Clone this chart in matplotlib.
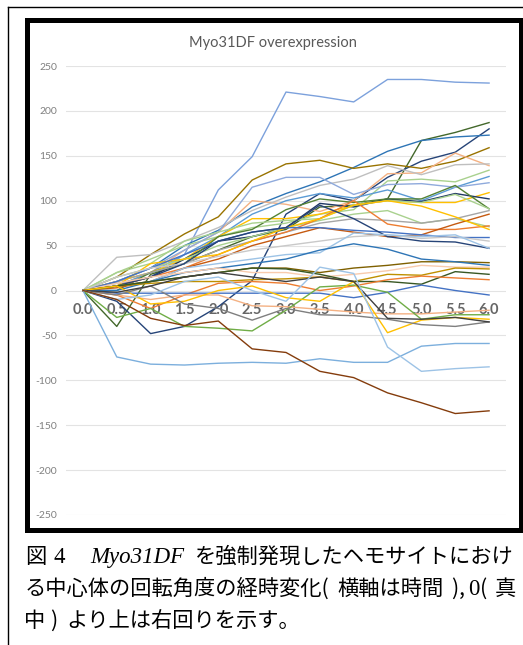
import numpy as np
import matplotlib
matplotlib.use('Agg')
import matplotlib.pyplot as plt
from matplotlib.lines import Line2D
from matplotlib.patches import Rectangle

W, H = 523, 645

# tempo (asse categorie)
tempi = ['0.0', '0.5', '1.0', '1.5', '2.0', '2.5', '3.0', '3.5', '4.0', '4.5', '5.0', '5.5', '6.0']
y_ticks = [250, 200, 150, 100, 50, 0, -50, -100, -150, -200, -250]

# angoli di rotazione (una lista per cellula)
s01 = [0, 8, 15, 40, 112, 149, 221, 216, 210, 235, 235, 232, 231]
s02 = [0, -40, 18, 30, 45, 60, 68, 93, 95, 102, 167, 176, 187]
s03 = [0, -12, -48, -40, -18, 11, 85, 108, 100, 126, 144, 154, 180]
s04 = [0, 10, 25, 50, 67, 93, 108, 121, 137, 155, 167, 171, 173]
s05 = [0, 15, 40, 63, 82, 123, 141, 145, 136, 141, 136, 144, 159]
s06 = [0, 5, 20, 45, 65, 100, 96, 88, 100, 130, 131, 153, 139]
s07 = [0, 37, 40, 55, 70, 89, 104, 117, 124, 139, 129, 140, 141]
s08 = [0, 20, 35, 50, 60, 70, 75, 85, 90, 122, 124, 121, 134]
s09 = [0, 5, 20, 40, 60, 85, 100, 108, 103, 112, 100, 115, 127]
s10 = [0, 10, 25, 45, 65, 115, 126, 126, 107, 118, 119, 115, 120]
s11 = [0, 10, 20, 35, 60, 80, 80, 85, 95, 100, 98, 98, 109]
s12 = [0, 5, 15, 35, 55, 60, 70, 97, 93, 102, 99, 108, 102]
s13 = [0, 0, 20, 30, 60, 68, 90, 102, 98, 102, 102, 117, 91]
s14 = [0, 20, 30, 55, 65, 75, 78, 80, 95, 100, 98, 107, 91]
s15 = [0, 15, 25, 35, 50, 60, 70, 78, 85, 89, 75, 80, 71]
s16 = [0, 10, 20, 30, 45, 55, 65, 75, 80, 78, 75, 80, 89]
s17 = [0, 5, 15, 25, 40, 55, 65, 80, 100, 74, 68, 68, 72]
s18 = [0, 3, 10, 25, 35, 50, 60, 70, 65, 60, 62, 74, 85]
s19 = [0, 5, 30, 35, 40, 55, 70, 80, 95, 100, 94, 82, 68]
s20 = [0, 10, 25, 40, 55, 65, 70, 70, 67, 65, 62, 59, 59]
s21 = [0, 15, 25, 30, 38, 45, 50, 55, 60, 62, 58, 60, 55]
s22 = [0, 5, 15, 30, 55, 65, 70, 95, 80, 60, 55, 54, 47]
s23 = [0, 5, 10, 25, 30, 35, 40, 42, 64, 62, 60, 62, 47]
s24 = [0, 5, 10, 15, 20, 25, 25, 20, 25, 28, 32, 32, 31]
s25 = [0, 0, 10, 20, 25, 30, 35, 45, 52, 46, 35, 32, 28]
s26 = [0, 8, 15, 20, 25, 20, 20, 15, 18, 22, 28, 26, 26]
s27 = [0, 5, 8, 10, 10, 12, 13, 15, 10, 18, 17, 25, 24]
s28 = [0, 5, 10, 15, 20, 25, 24, 18, 10, 10, 7, 21, 18]
s29 = [0, -5, -20, -5, 8, 10, 8, 0, 5, 12, 16, 14, 12]
s30 = [0, -3, -3, -3, -3, -3, -3, -3, -8, -2, 6, 0, -5]
s31 = [0, -5, -10, -5, -5, -17, -18, -21, -24, -26, -26, -24, -22]
s32 = [0, -30, -20, -40, -42, -45, -22, 4, 6, -2, -32, -27, -27]
s33 = [0, 5, -15, -12, 0, 5, -8, -12, 10, -47, -33, -30, -32]
s34 = [0, -5, 5, -15, -20, -33, -20, -27, -28, -32, -38, -40, -35]
s35 = [0, -2, 5, 15, 20, 15, 10, 15, 10, -31, -32, -30, -35]
s36 = [0, -74, -82, -83, -81, -80, -81, -76, -80, -80, -62, -59, -59]
s37 = [0, -10, -5, 10, 15, 0, -12, 26, 19, -63, -90, -87, -85]
s38 = [0, -10, -31, -39, -34, -65, -69, -90, -97, -114, -125, -137, -134]

serie = [s01, s02, s03, s04, s05, s06, s07, s08, s09, s10, s11, s12, s13,
         s14, s15, s16, s17, s18, s19, s20, s21, s22, s23, s24, s25, s26,
         s27, s28, s29, s30, s31, s32, s33, s34, s35, s36, s37, s38]
colori = ['#7CA1DC', '#43682B', '#264478', '#2E75B6', '#997300', '#F4B183',
          '#BFBFBF', '#A9D18E', '#5B9BD5', '#8FAADC', '#FFC000', '#203864',
          '#548235', '#A9D18E', '#A9D18E', '#A5A5A5', '#ED7D31', '#C55A11',
          '#FFC000', '#4472C4', '#C9C9C9', '#264478', '#9DC3E6', '#7F6000',
          '#2E75B6', '#F8CBAD', '#BF9000', '#385723', '#ED7D31', '#4472C4',
          '#F4B183', '#70AD47', '#FFC000', '#7F7F7F', '#404040', '#7CAFDD',
          '#9DC3E6', '#843C0C']

fig = plt.figure(figsize=(W / 100, H / 100), dpi=100)
fig.patch.set_facecolor('white')


def px(x, y):
    """pixel (dall'alto) -> coordinate figura"""
    return x / W, 1 - y / H


# cornice sottile della pagina e bordo spesso del grafico
fig.add_artist(Line2D([8 / W, 1], [1 - 7 / H, 1 - 7 / H], color='black', lw=1.0))
fig.add_artist(Line2D([8 / W, 8 / W], [0, 1 - 7 / H], color='black', lw=1.0))
fig.add_artist(Rectangle(px(26.5, 529.5), 494 / W, 510 / H, fill=False,
                         edgecolor='black', lw=3.6))

ax = fig.add_axes([66 / W, 1 - 515 / H, 440 / W, 449 / H])
x = np.arange(len(tempi))
for s, c in zip(serie, colori):
    ax.plot(x, s, color=c, lw=1.0, zorder=3)

ax.set_xlim(-0.5, len(tempi) - 0.5)
ax.set_ylim(-250, 250)
ax.set_yticks(y_ticks)
ax.set_yticklabels([str(v) for v in y_ticks], color='#808080',
                   fontsize=7.5, family='Lato')
ax.tick_params(axis='y', length=0, pad=6.5)
ax.set_xticks([])
ax.grid(axis='y', color='#E3E3E3', lw=0.8, zorder=0)
ax.set_axisbelow(True)
for sp in ax.spines.values():
    sp.set_visible(False)

for i, t in enumerate(tempi):
    ax.annotate(t, xy=(i, 0), xytext=(0, -14), textcoords='offset points',
                ha='center', va='center', fontsize=10.5, fontweight='bold',
                color='#666666', family='Lato', zorder=1)

fig.text(*px(273, 47), 'Myo31DF overexpression', ha='center', va='baseline',
         fontsize=10.5, color='#595959', family='Lato')

# didascalia
cjk = dict(family=['Noto Sans CJK JP', 'DejaVu Sans'], fontsize=15.3, color='black')
serif = dict(family=['Liberation Serif', 'DejaVu Serif'], fontsize=16.5, color='black')
serif_it = dict(serif, style='italic')

r = fig.canvas.get_renderer()


def riga(pezzi, y, x1=None, pesi=None):
    """pezzi: lista di (x_iniziale o None, testo, stile); se x1 giustifica"""
    testi = []
    for x0, s, kw in pezzi:
        testi.append([x0, fig.text(0, 1 - y / H, s, va='baseline', ha='left', **kw)])
    larg = [t.get_window_extent(r).width for _, t in testi]
    if x1 is not None:
        libero = x1 - testi[0][0] - sum(larg)
        tot = sum(pesi)
        pos = testi[0][0]
        for k, (_, t) in enumerate(testi):
            t.set_x(pos / W)
            pos += larg[k] + (libero * pesi[k] / tot if k < len(pesi) else 0)
    else:
        pos = testi[0][0]
        for k, (x0, t) in enumerate(testi):
            if x0 is not None:
                pos = x0
            t.set_x(pos / W)
            pos += larg[k]


riga([(25, '図', cjk), (53, '4', serif), (90, 'Myo31DF', serif_it),
      (195, 'を強制発現したヘモサイトにおけ', cjk)], 563)
riga([(25, 'る中心体の回転角度の経時変化(', cjk), (None, '横軸は時間', cjk),
      (None, ')', cjk), (None, ',', cjk), (None, '0', serif), (None, '(', cjk),
      (None, '真', cjk)],
     595, x1=516, pesi=[1, 1, 0, 0.5, 0, 1])
riga([(24, '中', cjk), (50, ')', cjk), (66, 'より上は右回りを示す。', cjk)], 627)

fig.savefig('out.png', dpi=100, facecolor='white')
